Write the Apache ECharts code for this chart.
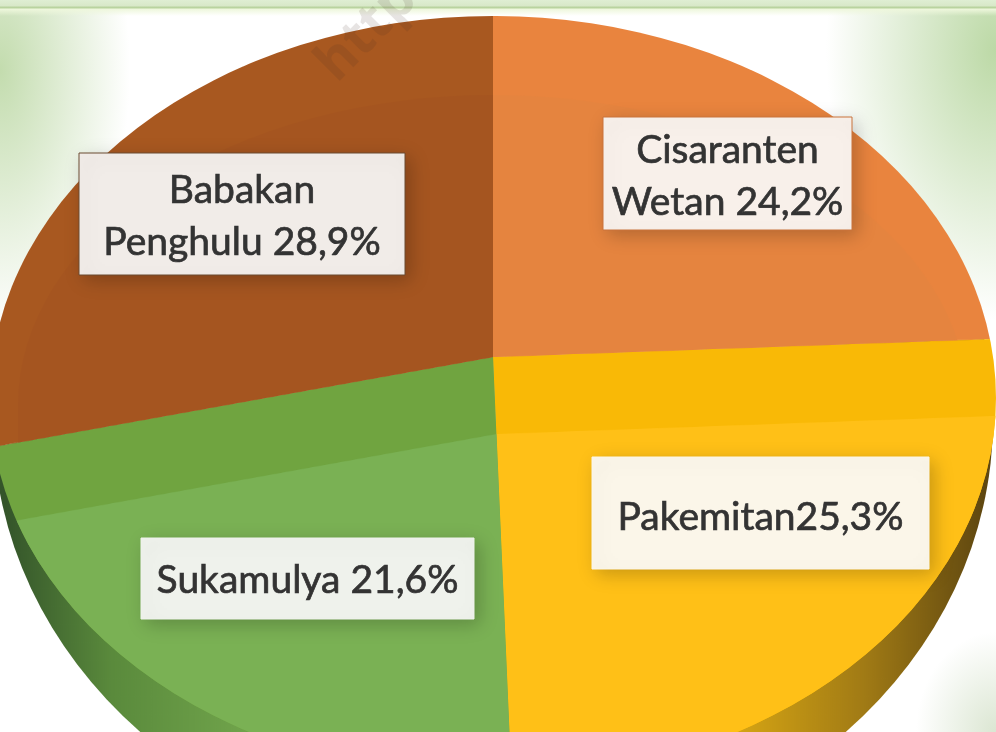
<!DOCTYPE html>
<html lang="en">

<head>
    <meta charset="UTF-8">
    <title>Pie</title>
    <script src="https://cdn.jsdelivr.net/npm/echarts@6/dist/echarts.min.js"></script>
    <style>
        html, body {
            margin: 0;
            padding: 0;
            width: 996px;
            height: 732px;
            overflow: hidden;
            background: #fff;
        }

        #page {
            position: relative;
            width: 996px;
            height: 732px;
            overflow: hidden;
            background:
                linear-gradient(to bottom, #dfeed3 0, #d8e8c8 6px, #b9d39f 7px, #b9d39f 8px, #eef7dc 9px, rgba(255,255,255,0) 16px),
                radial-gradient(ellipse 130px 260px at 0 70px, #c3dcae 0, rgba(255,255,255,0) 100%),
                radial-gradient(ellipse 170px 270px at 996px 50px, #bcd9a6 0, rgba(255,255,255,0) 100%),
                radial-gradient(ellipse 80px 100px at 996px 732px, #dbe6d2 0, rgba(255,255,255,0) 100%),
                #fff;
        }

        .clip, .pie, #labels {
            position: absolute;
        }

        .clip {
            left: 0;
            top: 0;
            width: 996px;
            height: 732px;
        }

        .pie {
            left: 0;
            width: 996px;
            height: 1400px;
            transform-origin: 0 700px;
            transform: scaleY(0.72);
        }

        #labels {
            left: 0;
            top: 0;
            width: 996px;
            height: 732px;
            filter: blur(0.7px);
        }
    </style>
</head>

<body>
    <div id="page"></div>
    <script>
        const categories = ['Cisaranten Wetan', 'Pakemitan', 'Sukamulya', 'Babakan Penghulu'];
        const values = [24.2, 25.3, 21.6, 28.9];
        const labelLines = [
            ['Cisaranten', 'Wetan '],
            ['Pakemitan'],
            ['Sukamulya '],
            ['Babakan', 'Penghulu ']
        ];

        const faceColors = ['#e9843e', '#f9b906', '#70a440', '#a85820'];
        const rimColors = ['#e5843f', 'transparent', 'transparent', '#a55520'];
        const liftColors = ['transparent', '#ffc017', '#7ab154', 'transparent'];
        const sideColors = [
            'transparent',
            { type: 'linear', global: true, x: 985, y: 0, x2: 720, y2: 0, colorStops: [{ offset: 0, color: '#5f4710' }, { offset: 0.45, color: '#a07a15' }, { offset: 1, color: '#dcaa14' }] },
            { type: 'linear', global: true, x: 5, y: 0, x2: 270, y2: 0, colorStops: [{ offset: 0, color: '#34552a' }, { offset: 0.4, color: '#5a8a3c' }, { offset: 1, color: '#74a84e' }] },
            'transparent'
        ];

        const labelBoxes = [
            { x: 603, y: 117, w: 249, h: 113, fill: '#f8f0ea', edge: '#c9733a', cy: [150, 202] },
            { x: 592, y: 457, w: 337, h: 112, fill: '#fbf6e9', edge: '#fbf6e9', cy: [517] },
            { x: 141, y: 538, w: 333, h: 81, fill: '#eff2ec', edge: '#eff2ec', cy: [580] },
            { x: 79, y: 153, w: 326, h: 122, fill: '#f1ece8', edge: '#6b4a30', cy: [190, 242] }
        ];

        const page = document.getElementById('page');

        function addPie(clipPath, apexY, apexX, colors) {
            let clip = document.createElement('div');
            clip.className = 'clip';
            clip.style.clipPath = clipPath;
            let el = document.createElement('div');
            el.className = 'pie';
            el.style.top = (apexY - 700) + 'px';
            clip.appendChild(el);
            page.appendChild(clip);
            let chart = echarts.init(el, null, { renderer: 'canvas' });
            chart.setOption({
                animation: false,
                series: [{
                    type: 'pie',
                    silent: true,
                    center: [apexX, 700],
                    radius: [0, 700],
                    startAngle: 90,
                    clockwise: true,
                    label: { show: false },
                    labelLine: { show: false },
                    data: values.map(function (v, i) {
                        return { name: categories[i], value: v, itemStyle: { color: colors[i] } };
                    })
                }]
            });
        }

        // side of the disc, then top face, inner rim, and the raised inner part of the lower slices
        addPie('ellipse(500px 440px at 493px 420px)', 357, 493, sideColors);
        addPie('ellipse(503px 382px at 493px 398px)', 357, 493, faceColors);
        addPie('path("M18,405 A475,310 0 0 1 968,405 L968,732 L18,732 Z")', 357, 493, rimColors);
        addPie('ellipse(503px 382px at 493px 398px)', 434, 496.5, liftColors);

        // labels
        let labelEl = document.createElement('div');
        labelEl.id = 'labels';
        page.appendChild(labelEl);
        let labelChart = echarts.init(labelEl);
        let elements = [];
        // watermark
        elements.push({
            type: 'text',
            x: 345,
            y: 92,
            rotation: Math.PI / 4,
            style: {
                text: 'https://',
                font: 'bold 54px "Open Sans"',
                fill: 'rgba(70,50,40,0.13)',
                verticalAlign: 'bottom'
            }
        });
        labelBoxes.forEach(function (b, i) {
            elements.push({
                type: 'rect',
                shape: { x: b.x, y: b.y, width: b.w, height: b.h },
                style: { fill: b.fill, stroke: b.edge, lineWidth: 1, shadowBlur: 18, shadowOffsetX: 5, shadowOffsetY: 5, shadowColor: 'rgba(0,0,0,0.22)' }
            });
            let pct = values[i].toFixed(1).replace('.', ',') + '%';
            labelLines[i].forEach(function (line, j) {
                let isLast = j === labelLines[i].length - 1;
                elements.push({
                    type: 'text',
                    x: b.x + b.w / 2,
                    y: b.cy[j],
                    style: {
                        text: isLast ? line + pct : line,
                        x: 0,
                        y: 0,
                        align: 'center',
                        verticalAlign: 'middle',
                        font: '39px Lato',
                        fill: '#333',
                        stroke: '#333',
                        lineWidth: 0.7
                    }
                });
            });
        });
        labelChart.setOption({ animation: false, graphic: { elements: elements } });
    </script>
</body>

</html>
